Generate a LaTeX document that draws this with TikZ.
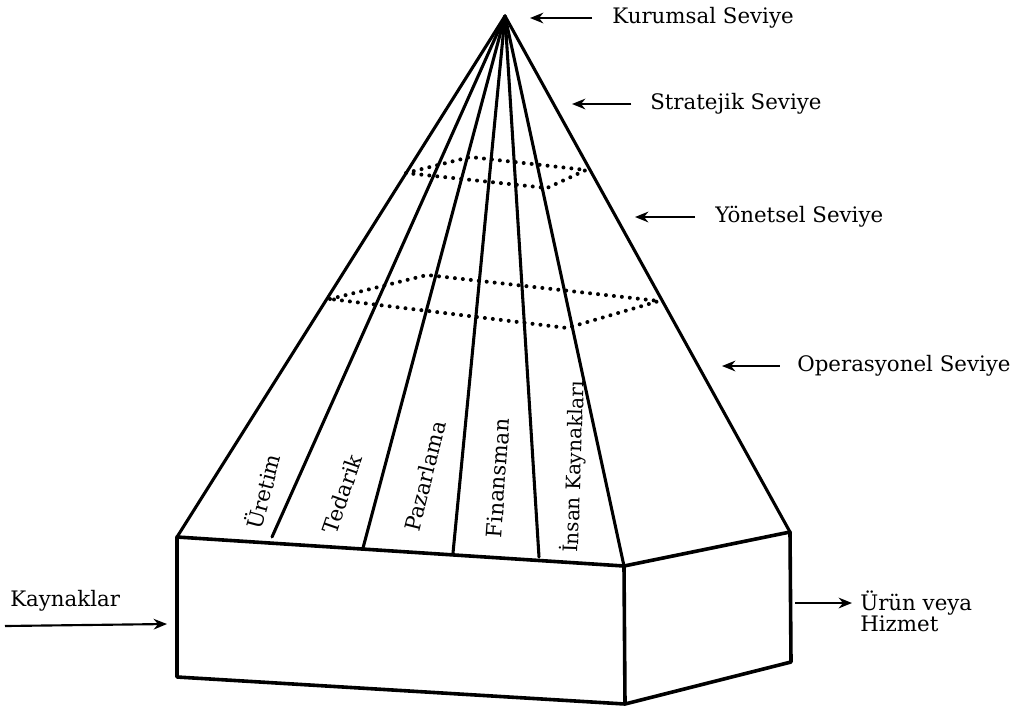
\documentclass[tikz,border=0pt]{standalone}
\usepackage{fontspec}
\setmainfont{DejaVu Serif}
\usepackage{tikz}
\usetikzlibrary{arrows.meta, calc}

\tikzstyle{pyredge} = [line width=2.3pt, line join=round, line cap=round]
\tikzstyle{boxedge} = [line width=2.7pt, line join=round]
\tikzstyle{levelline} = [line width=3pt, line cap=round, dash pattern=on 0pt off 6pt]
\tikzstyle{arrow} = [-{Stealth[length=10pt, width=8pt]}, line width=1.6pt]
\tikzstyle{levelname} = [font=\fontsize{16}{19}\selectfont, inner sep=0pt]
\tikzstyle{fnname} = [font=\fontsize{16}{19}\selectfont, inner sep=0pt]

\begin{document}
\begin{tikzpicture}[x=0.75pt, y=-0.75pt]
  \useasboundingbox (0,0) rectangle (1017,708);

  % Pyramid and box corners
  \coordinate (apex) at (505,16);
  \coordinate (fl) at (177,537);
  \coordinate (fr) at (624,566);
  \coordinate (br) at (790,532);
  \coordinate (flb) at (177,677);
  \coordinate (frb) at (625,704);
  \coordinate (brb) at (791,662);

  % Box
  \draw[boxedge] (fl) -- (fr) -- (br) -- (brb) -- (frb) -- (flb) -- cycle;
  \draw[boxedge] (fr) -- (frb);

  % Pyramid
  \draw[pyredge] (fl) -- (apex) -- (br);
  \draw[pyredge] (apex) -- (fr);
  \foreach \fx/\fy in {272/537, 363/548, 453/553, 539/557}
    \draw[pyredge] (apex) -- (\fx,\fy);

  % Levels
  \draw[levelline] (406,173) -- (470,157) -- (586,170) -- (547,188) -- cycle;
  \draw[levelline] (330,299) -- (427,275) -- (659,301) -- (567,328) -- cycle;

  % Functions
  \node[fnname, rotate=75] (uretim) at (262,491) {Üretim};
  \node[fnname, rotate=71] (tedarik) at (342,494) {Tedarik};
  \node[fnname, rotate=76] (pazarlama) at (425,476) {Pazarlama};
  \node[fnname, rotate=86] (finansman) at (498,478) {Finansman};
  \node[fnname, rotate=88, font=\fontsize{15}{18}\selectfont] (insan) at (574,467) {İnsan Kaynakları};

  % Level names
  \node[levelname, anchor=west] (kurumsal) at (612,18) {Kurumsal Seviye};
  \node[levelname, anchor=west] (stratejik) at (650,104) {Stratejik Seviye};
  \node[levelname, anchor=west] (yonetsel) at (715,217) {Yönetsel Seviye};
  \node[levelname, anchor=west] (operasyonel) at (797,366) {Operasyonel Seviye};

  \coordinate (kurumsalTip) at (530,18);
  \coordinate (stratejikTip) at (572,104);
  \coordinate (yonetselTip) at (635,217);
  \coordinate (operasyonelTip) at (722,366);

  \draw[arrow, shorten <=15pt] (kurumsal.west) -- (kurumsalTip);
  \draw[arrow, shorten <=14pt] (stratejik.west) -- (stratejikTip);
  \draw[arrow, shorten <=15pt] (yonetsel.west) -- (yonetselTip);
  \draw[arrow, shorten <=13pt] (operasyonel.west) -- (operasyonelTip);

  % Input and output
  \node[levelname, anchor=west] (kaynaklar) at (10,601) {Kaynaklar};
  \coordinate (inTail) at (5,626);
  \coordinate (inTip) at (167,624);
  \draw[arrow] (inTail) -- (inTip);

  \node[levelname, anchor=north west, align=left, font=\fontsize{16}{15.5}\selectfont]
    (urun) at (860,591) {Ürün veya\\Hizmet};
  \coordinate (outTail) at (795,603);
  \draw[arrow, shorten >=6pt] (outTail) -- (urun.west |- outTail);

\end{tikzpicture}
\end{document}
